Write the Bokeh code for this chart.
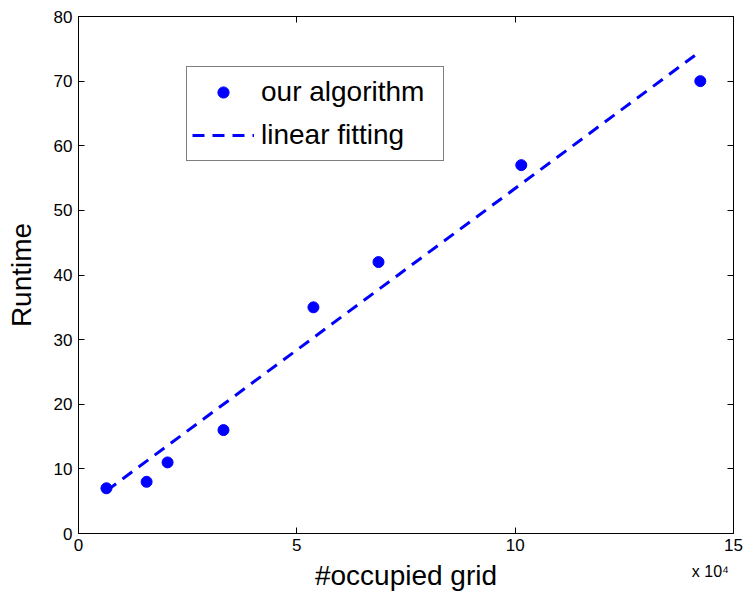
from bokeh.plotting import figure
from bokeh.models import (Range1d, FixedTicker, LinearAxis, Legend, LegendItem,
                          CustomJSTickFormatter)
from bokeh.embed import file_html
from bokeh.resources import INLINE

# data (x in units of 10^4)
grid_x = [0.64, 1.56, 2.04, 3.32, 5.38, 6.87, 10.14, 14.24]
runtime = [7, 8, 11, 16, 35, 42, 57, 70]
fit_x = [0.64, 14.24]
fit_y = [6.6, 74.6]
x_ticks = [0, 5, 10, 15]
y_ticks = [0, 10, 20, 30, 40, 50, 60, 70, 80]
scale_note = "x 10\u2074"
scale_note_pos = 14.47

FONT = "Liberation Sans"
BLUE = "#0000ff"

p = figure(width=746, height=595, output_backend="svg", toolbar_location=None,
           x_range=Range1d(0, 15), y_range=Range1d(0, 80),
           min_border_left=78, min_border_right=13, min_border_top=16, min_border_bottom=62)
p.grid.visible = False
p.outline_line_color = "black"
p.outline_line_width = 1
p.background_fill_color = "white"
p.border_fill_color = "white"

for ax, ticks in ((p.xaxis[0], x_ticks), (p.yaxis[0], y_ticks)):
    ax.ticker = FixedTicker(ticks=ticks)
    ax.major_tick_in = 6
    ax.major_tick_out = 0
    ax.minor_tick_line_color = None
    ax.major_label_text_font = FONT
    ax.major_label_text_font_size = "17px"
    ax.major_label_text_color = "black"
    ax.axis_label_text_font = FONT
    ax.axis_label_text_font_size = "28px"
    ax.axis_label_text_font_style = "normal"
    ax.axis_label_text_color = "black"
    ax.axis_line_color = "black"
    ax.major_tick_line_color = "black"

p.xaxis.axis_label = "#occupied grid"
p.yaxis.axis_label = "Runtime"
p.xaxis.major_label_standoff = 5
p.xaxis.axis_label_standoff = 6
p.yaxis.major_label_standoff = 6
p.yaxis.axis_label_standoff = 14

# mirrored ticks on top and right
for loc, ticks in (("above", x_ticks), ("right", y_ticks)):
    ax = LinearAxis(ticker=FixedTicker(ticks=ticks),
                    formatter=CustomJSTickFormatter(code="return ''"))
    ax.major_tick_in = 6
    ax.major_tick_out = 0
    ax.minor_tick_line_color = None
    ax.major_label_standoff = 0
    ax.axis_line_color = None
    ax.major_tick_line_color = "black"
    p.add_layout(ax, loc)

# "x 10^4" scale note under the right end of the x axis (an unlabeled helper axis)
note_ax = LinearAxis(ticker=FixedTicker(ticks=[scale_note_pos]),
                     major_label_overrides={scale_note_pos: scale_note})
note_ax.major_tick_in = 0
note_ax.major_tick_out = 0
note_ax.major_tick_line_color = None
note_ax.minor_tick_line_color = None
note_ax.axis_line_color = None
note_ax.major_label_standoff = -31
note_ax.major_label_text_font = FONT
note_ax.major_label_text_font_size = "16px"
note_ax.major_label_text_color = "black"
p.add_layout(note_ax, "below")

line = p.line(fit_x, fit_y, line_color=BLUE, line_width=3, line_dash="12 8")
pts = p.scatter(grid_x, runtime, size=11, fill_color=BLUE, line_color=BLUE)

legend = Legend(items=[LegendItem(label="our algorithm", renderers=[pts]),
                       LegendItem(label="linear fitting", renderers=[line])],
                location=(108, 372))
legend.label_text_font = FONT
legend.label_text_font_size = "28px"
legend.label_text_color = "black"
legend.label_width = 177
legend.label_height = 40
legend.glyph_height = 28
legend.glyph_width = 62
legend.label_standoff = 7
legend.padding = 5
legend.spacing = 3
legend.margin = 0
legend.border_line_color = "black"
legend.border_line_width = 1.5
legend.background_fill_alpha = 1
p.add_layout(legend, "center")

open("out.html", "w").write(file_html(p, INLINE))
